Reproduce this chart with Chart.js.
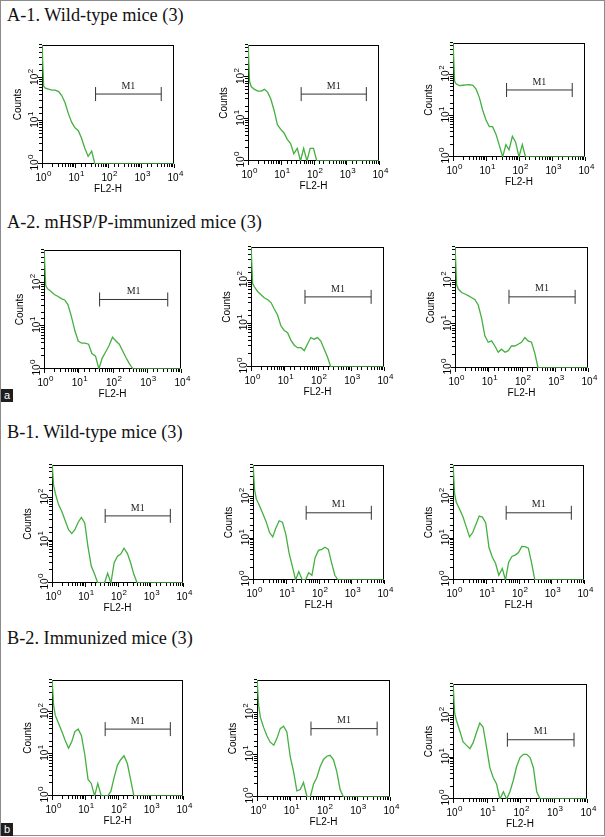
<!DOCTYPE html>
<html>
<head>
<meta charset="utf-8">
<script src="https://cdn.jsdelivr.net/npm/chart.js@4.4.1/dist/chart.umd.min.js"></script>
<style>
  body { margin: 0; background: #fff; }
  #fig { position: relative; width: 605px; height: 837px; overflow: hidden; }
  #edge { position: absolute; left: 0; top: 0; width: 603px; height: 834px; border: 1px solid #8c8c8c; }
  .title { position: absolute; left: 7px; font: 18.3px "Liberation Serif", "Times New Roman", serif; color: #111; white-space: nowrap; line-height: 18px; }
  .tag { position: absolute; left: 1px; width: 12px; height: 13px; background: #1e1e1e; color: #fff; font: 11px "Liberation Sans", Arial, sans-serif; text-align: center; line-height: 12px; }
  canvas { position: absolute; }
</style>
</head>
<body>
<div id="fig">
  <div id="edge"></div>
  <div class="title" style="top:6px">A-1. Wild-type mice (3)</div>
  <div class="title" style="top:213px">A-2. mHSP/P-immunized mice (3)</div>
  <div class="tag" style="top:389px">a</div>
  <div class="title" style="top:423px">B-1. Wild-type mice (3)</div>
  <div class="title" style="top:629px">B-2. Immunized mice (3)</div>
  <div class="tag" style="top:823px">b</div>
</div>
<script>
// FL2-H channel values (log scale) where the histograms were read
const fl2Channel = [1, 1.12, 1.26, 1.58, 2.0, 2.5, 3.2, 4.0, 5.0, 6.3, 7.9, 10, 12.6, 15.8, 20, 25, 32, 40, 50, 63, 79, 100, 126, 158, 200, 251, 316, 398, 10000];

// counts per panel (1 = empty channel, sits on the 10^0 baseline)
const a1Mouse1 = [700, 66, 59, 56, 53, 53, 49, 39, 27, 15, 9.5, 7, 6, 4, 2.3, 1.5, 2, 1, 1, 1, 1, 1, 1, 1, 1, 1, 1, 1, 1];
const a1Mouse2 = [700, 80, 60, 52, 47, 47, 52, 44, 30, 16, 7.4, 5.7, 4.7, 3.3, 2.6, 1.5, 2, 1, 2, 1, 2, 2, 1, 1, 1, 1, 1, 1, 1];
const a1Mouse3 = [700, 70, 60, 55, 56, 57, 58, 56, 45, 28, 14, 8, 5.5, 5.5, 3.6, 2, 1, 2, 1.5, 3.2, 2.3, 1, 2, 1, 1, 1, 1, 1, 1];
const a2Mouse1 = [700, 90, 75, 65, 55, 50, 44, 41, 32, 17, 8, 4.5, 4, 4, 3.8, 2.3, 2, 1, 1.8, 2.5, 3.5, 5.5, 4.5, 3.8, 2.6, 1.8, 1.3, 1, 1];
const a2Mouse2 = [700, 85, 72, 56, 47, 40, 36, 31, 22, 16, 9, 7, 6.2, 4.2, 3.2, 2.8, 2.8, 2.4, 3.4, 4.8, 4.4, 4.8, 4, 2.6, 1.7, 1, 1, 1, 1];
const a2Mouse3 = [700, 80, 65, 54, 50, 46, 41, 37, 28, 14, 5.5, 3.9, 4.2, 3.2, 2.3, 2.7, 2.3, 2.5, 3.2, 3.2, 3.5, 3.9, 5, 4.2, 3.9, 2.2, 1, 1, 1];
const b1Mouse1 = [700, 200, 130, 70, 48, 30, 18, 14.6, 18, 27, 35, 26, 7, 2.5, 1.6, 1, 1, 1, 1.7, 1, 3, 4.3, 4.8, 6.6, 5, 3, 1.6, 1, 1];
const b1Mouse2 = [700, 150, 91, 62, 40, 26, 14, 11, 18, 27, 25, 13, 4.5, 2.2, 1, 1.6, 1, 1, 1.5, 1.3, 3.5, 5.2, 5.5, 6.2, 5.5, 2.6, 1.3, 1, 1];
const b1Mouse3 = [700, 120, 75, 52, 34, 20, 11, 14, 22, 35, 33, 24, 6, 3.6, 2.5, 1.3, 1.9, 1, 2.7, 3.7, 4, 4.6, 6.5, 6.4, 5.9, 2.6, 1, 1, 1];
const b2Mouse1 = [700, 150, 85, 55, 35, 22, 14, 20, 35, 40, 28, 10, 2.5, 2, 1, 2, 1, 1, 1, 1.3, 2.8, 5.5, 7.5, 9.2, 6, 2.5, 1, 1, 1];
const b2Mouse2 = [700, 150, 79, 45, 28, 20, 17, 25, 42, 48, 35, 9, 4, 1.4, 1.5, 2.2, 1, 1, 2, 2.9, 5.2, 7.8, 9.3, 9.8, 7.6, 4, 1.5, 1, 1];
const b2Mouse3 = [700, 120, 80, 45, 24, 20, 16.5, 23, 40, 68, 55, 18, 5.7, 3.3, 2.3, 1, 1.5, 1, 1.5, 2.8, 6, 10, 12, 12, 10, 5.7, 1.5, 1, 1];

// M1 gate: FL2-H range and the count level where the marker is drawn
const m1Gate = [42, 4100];
const m1Level = [43, 40, 43, 42, 42, 43, 38, 42, 42, 40, 42, 27];

// axis labels are 10 raised to these powers
const fl2Ticks = [1, 10, 100, 1000, 10000];
const fl2Powers = ['0', '1', '2', '3', '4'];
const countTicks = [1, 10, 100];
const countPowers = ['0', '1', '2'];

const PAD_L = 34, PAD_T = 6, PAD_R = 10, PAD_B = 35;
const GREEN = '#44b040';
const SANS = '"Liberation Sans", Arial, sans-serif';
const SERIF = '"Liberation Serif", "Times New Roman", serif';

// frame boxes [left, top, right, bottom] of each plot area on the page
const panels = [
  { series: a1Mouse1, box: [42, 43, 174, 164] },
  { series: a1Mouse2, box: [248, 43, 379, 161] },
  { series: a1Mouse3, box: [453, 41, 585, 157] },
  { series: a2Mouse1, box: [44, 248, 181, 369] },
  { series: a2Mouse2, box: [251, 245, 384, 367] },
  { series: a2Mouse3, box: [455, 245, 588, 368] },
  { series: b1Mouse1, box: [52, 463, 183, 583] },
  { series: b1Mouse2, box: [253, 463, 384, 580] },
  { series: b1Mouse3, box: [453, 463, 584, 580] },
  { series: b2Mouse1, box: [52, 678, 183, 796] },
  { series: b2Mouse2, box: [257, 678, 390, 797] },
  { series: b2Mouse3, box: [453, 682, 587, 799] },
];

// "10" with a raised exponent, centred on the origin of the current transform
function powerLabel(ctx, pow) {
  ctx.font = '10px ' + SANS;
  ctx.textBaseline = 'middle';
  ctx.textAlign = 'center';
  const w = ctx.measureText('10').width;
  ctx.fillText('10', -1, 0);
  ctx.font = '8px ' + SANS;
  ctx.textAlign = 'left';
  ctx.fillText(pow, w / 2 - 0.5, -4);
}

function isDecade(v) {
  const e = Math.log10(v);
  return Math.abs(e - Math.round(e)) < 1e-6;
}

const framePlugin = {
  id: 'frame',
  beforeDatasetsDraw(chart) {
    const { ctx, chartArea: a, scales } = chart;
    ctx.save();
    ctx.strokeStyle = '#000';
    ctx.lineWidth = 1;
    ctx.strokeRect(a.left + 0.5, a.top + 0.5, a.right - a.left - 1, a.bottom - a.top - 1);
    // outward tick marks at every log tick of both scales
    ctx.beginPath();
    scales.x.ticks.forEach(t => {
      const x = Math.round(scales.x.getPixelForValue(t.value)) + 0.5;
      ctx.moveTo(x, a.bottom);
      ctx.lineTo(x, a.bottom + (isDecade(t.value) ? 4 : 3));
    });
    scales.y.ticks.forEach(t => {
      const y = Math.round(scales.y.getPixelForValue(t.value)) - 0.5;
      ctx.moveTo(a.left, y);
      ctx.lineTo(a.left - (isDecade(t.value) ? 4 : 3), y);
    });
    ctx.stroke();
    ctx.restore();
  },
  afterDraw(chart) {
    const { ctx, chartArea: a, scales } = chart;
    ctx.save();
    ctx.fillStyle = '#000';
    fl2Ticks.forEach((v, i) => {
      ctx.save();
      ctx.translate(scales.x.getPixelForValue(v), a.bottom + 14);
      powerLabel(ctx, fl2Powers[i]);
      ctx.restore();
    });
    countTicks.forEach((v, i) => {
      ctx.save();
      ctx.translate(a.left - 7, scales.y.getPixelForValue(v));
      ctx.rotate(-Math.PI / 2);
      powerLabel(ctx, countPowers[i]);
      ctx.restore();
    });
    // M1 text above the gate marker
    const pts = chart.getDatasetMeta(1).data;
    ctx.fillStyle = '#222';
    ctx.font = '10px ' + SERIF;
    ctx.textAlign = 'center';
    ctx.textBaseline = 'bottom';
    ctx.fillText('M1', (pts[0].x + pts[1].x) / 2, pts[0].y - 3);
    ctx.restore();
  }
};

Chart.defaults.font.family = SANS;

const fig = document.getElementById('fig');

panels.forEach((p, idx) => {
  const [l, t, r, b] = p.box;
  const canvas = document.createElement('canvas');
  canvas.width = r - l + PAD_L + PAD_R;
  canvas.height = b - t + PAD_T + PAD_B;
  canvas.style.left = (l - PAD_L) + 'px';
  canvas.style.top = (t - PAD_T) + 'px';
  fig.appendChild(canvas);

  new Chart(canvas, {
    type: 'line',
    data: {
      datasets: [
        {
          data: fl2Channel.map((x, i) => ({ x, y: p.series[i] })),
          borderColor: GREEN,
          borderWidth: 1.3,
          pointRadius: 0,
          tension: 0,
          fill: false
        },
        {
          data: m1Gate.map(x => ({ x, y: m1Level[idx] })),
          borderColor: '#333',
          borderWidth: 1,
          pointStyle: 'line',
          rotation: 90,
          pointRadius: 7,
          pointBorderWidth: 1,
          pointBorderColor: '#333'
        }
      ]
    },
    options: {
      responsive: false,
      animation: false,
      layout: { padding: { top: PAD_T, right: PAD_R, left: 0, bottom: 0 } },
      plugins: { legend: { display: false }, tooltip: { enabled: false } },
      scales: {
        x: {
          type: 'logarithmic',
          min: 1,
          max: 10000,
          border: { display: false },
          grid: { display: false },
          ticks: { autoSkip: false, maxRotation: 0, font: { size: 10 }, callback: () => '' },
          title: { display: true, text: 'FL2-H', color: '#000', font: { size: 10 }, padding: { top: 0, bottom: 4 } },
          afterFit: s => { s.height = PAD_B; s.paddingLeft = 0; s.paddingRight = 0; }
        },
        y: {
          type: 'logarithmic',
          min: 1,
          max: 600,
          border: { display: false },
          grid: { display: false },
          ticks: { autoSkip: false, font: { size: 10 }, callback: () => '' },
          title: { display: true, text: 'Counts', color: '#000', font: { size: 10 }, padding: { top: 4, bottom: 0 } },
          afterFit: s => { s.width = PAD_L; s.paddingTop = 0; s.paddingBottom = 0; }
        }
      }
    },
    plugins: [framePlugin]
  });
});
</script>
</body>
</html>
